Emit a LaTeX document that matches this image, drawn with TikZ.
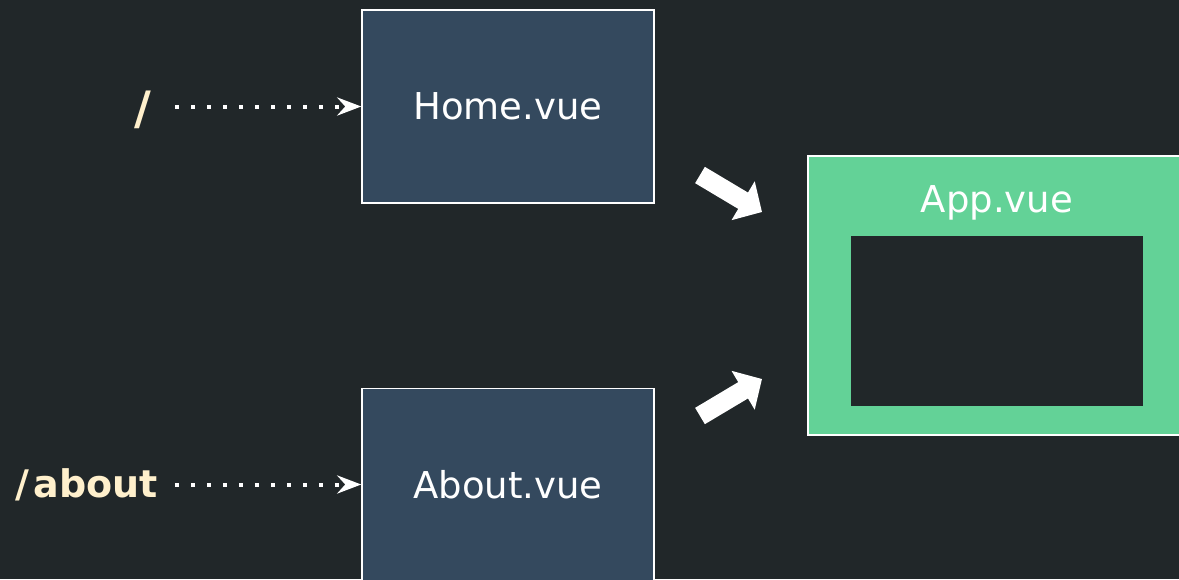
\documentclass[tikz,border=0pt]{standalone}
\usepackage{fontspec}
\setmainfont{DejaVu Sans}
\usetikzlibrary{arrows.meta}
\definecolor{bgc}{HTML}{212729}
\definecolor{boxc}{HTML}{34495E}
\definecolor{greenc}{HTML}{63D297}
\definecolor{creamc}{HTML}{FFF0CC}
\tikzset{
  comp/.style={draw=white, line width=1.5pt, fill=boxc, minimum width=292pt, minimum height=193pt, inner sep=0pt, text=white, font=\fontsize{37}{40}\selectfont},
  appbox/.style={draw=white, line width=1.5pt, fill=greenc, minimum width=378pt, minimum height=279pt, inner sep=0pt},
  slot/.style={fill=bgc, minimum width=292pt, minimum height=170pt, inner sep=0pt},
  routelabel/.style={text=creamc, inner sep=0pt, font=\bfseries\fontsize{38}{42}\selectfont},
  dotarrow/.style={draw=white, line width=4pt, dash pattern=on 4pt off 12pt, -{Stealth[length=24pt,width=18pt,inset=8pt]}},
  bigarrow/.style={draw=white, line width=19pt, -{Triangle[length=22pt,width=44pt]}}
}
\begin{document}
\begin{tikzpicture}[x=1pt,y=-1pt]
\fill[bgc] (0,0) rectangle (1179,579);
\useasboundingbox (0,0) rectangle (1179,579);
\node[comp] (home) at (508,106.5) {Home.vue};
\node[comp] (about) at (508,485) {About.vue};
\node[appbox] (app) at (997,295.5) {};
\node[slot] (slot) at (997,321) {};
\node[text=white, inner sep=0pt, anchor=base, font=\fontsize{37}{40}\selectfont] (apptitle) at (997,212) {App.vue};
\node[routelabel, anchor=base east, font=\bfseries\fontsize{46}{50}\selectfont] (r1) at (151,124) {/};
\node[routelabel, anchor=base east] (r2) at (158,497) {/\kern4pt about};
\coordinate (d1) at (175,106.5);
\coordinate (d2) at (175,484.5);
\draw[dotarrow] (d1) -- (home.west);
\draw[dotarrow] (d2) -- (d2 -| about.west);
\coordinate (a1s) at (700,175);
\coordinate (a1e) at (762,212);
\coordinate (a2s) at (700,416);
\coordinate (a2e) at (762,379);
\draw[bigarrow] (a1s) -- (a1e);
\draw[bigarrow] (a2s) -- (a2e);
\end{tikzpicture}
\end{document}
